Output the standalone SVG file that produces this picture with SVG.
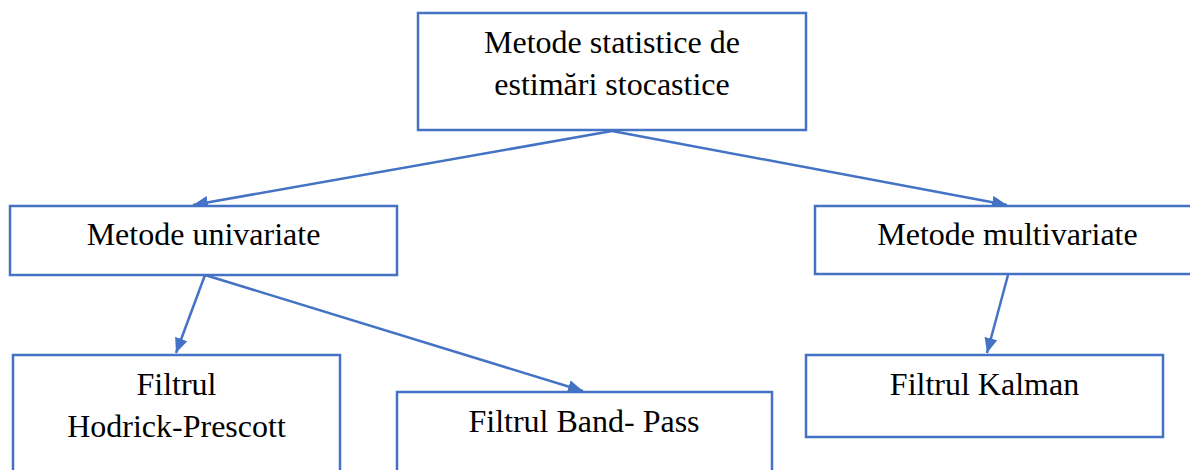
<svg xmlns="http://www.w3.org/2000/svg" width="1190" height="470" viewBox="0 0 1190 470">
<defs>
<style>
.box{fill:#fff;stroke:#4472C4;stroke-width:2.5}
.lbl{font-family:"Liberation Serif","Times New Roman",serif;font-size:32px;fill:#000;text-anchor:middle}
.conn{stroke:#4472C4;stroke-width:2.5;fill:none;marker-end:url(#ah)}
</style>
<marker id="ah" markerUnits="userSpaceOnUse" markerWidth="16" markerHeight="14" refX="15" refY="6.5" orient="auto">
<path d="M0,0 L15,6.5 L0,13 z" fill="#4472C4"/>
</marker>
</defs>
<rect width="1190" height="470" fill="#fff"/>
<g id="connectors">
<line class="conn" x1="612" y1="131" x2="193" y2="205"/>
<line class="conn" x1="612" y1="131" x2="1007" y2="205"/>
<line class="conn" x1="205" y1="275" x2="176" y2="353"/>
<line class="conn" x1="205" y1="275" x2="583" y2="391"/>
<line class="conn" x1="1008" y1="275" x2="987" y2="353"/>
</g>
<g id="n-root">
<rect class="box" x="418" y="13" width="388" height="117"/>
<text class="lbl" x="612" y="53">Metode statistice de</text>
<text class="lbl" x="612" y="95">estimări stocastice</text>
</g>
<g id="n-univariate">
<rect class="box" x="10" y="206" width="387" height="69"/>
<text class="lbl" x="203.5" y="245">Metode univariate</text>
</g>
<g id="n-multivariate">
<rect class="box" x="815" y="206" width="385" height="68"/>
<text class="lbl" x="1007.5" y="245">Metode multivariate</text>
</g>
<g id="n-hp">
<rect class="box" x="13" y="355" width="327" height="130"/>
<text class="lbl" x="176.5" y="395">Filtrul</text>
<text class="lbl" x="176.5" y="437">Hodrick-Prescott</text>
</g>
<g id="n-bp">
<rect class="box" x="397" y="392" width="375" height="100"/>
<text class="lbl" x="584" y="432">Filtrul Band- Pass</text>
</g>
<g id="n-kalman">
<rect class="box" x="806" y="355" width="357" height="82"/>
<text class="lbl" x="984.5" y="395">Filtrul Kalman</text>
</g>
</svg>
